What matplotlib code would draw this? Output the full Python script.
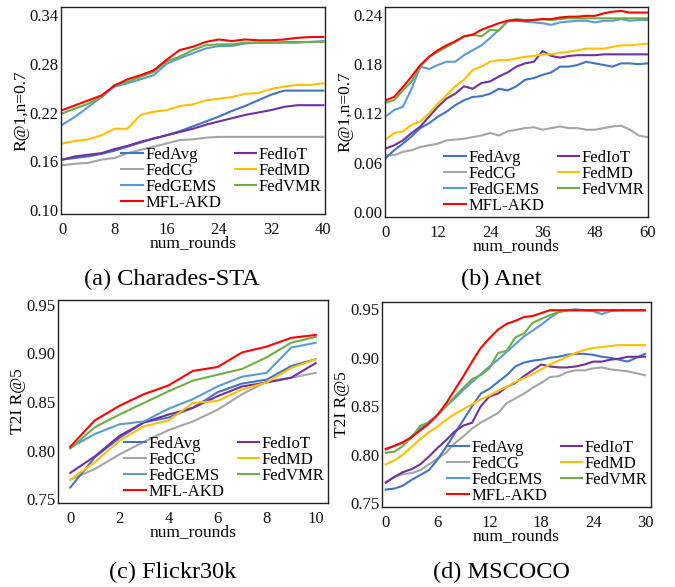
"""Four-panel federated-learning convergence figure (R@1 / T2I R@5 vs rounds)."""

import matplotlib

matplotlib.use("Agg")
import matplotlib.pyplot as plt
from matplotlib.ticker import FormatStrFormatter

plt.rcParams["font.family"] = ["Liberation Serif", "DejaVu Serif"]

METHODS = ["FedAvg", "FedCG", "FedGEMS", "MFL-AKD", "FedIoT", "FedMD", "FedVMR"]
DRAW_ORDER = ["FedCG", "FedAvg", "FedIoT", "FedMD", "FedGEMS", "FedVMR", "MFL-AKD"]
COLORS = {
    "FedAvg": "#4472c4",
    "FedCG": "#a5a5a5",
    "FedGEMS": "#5b9bd5",
    "MFL-AKD": "#ff0000",
    "FedIoT": "#7030a0",
    "FedMD": "#ffc000",
    "FedVMR": "#70ad47",
}

# (a) Charades-STA, every 2 rounds
A_ROUNDS = list(range(0, 41, 2))
A_FEDAVG = [0.162, 0.164, 0.166, 0.169, 0.173, 0.178, 0.183, 0.188, 0.192, 0.197, 0.203,
            0.209, 0.215, 0.222, 0.228, 0.235, 0.242, 0.247, 0.247, 0.247, 0.247]
A_FEDCG = [0.155, 0.157, 0.158, 0.162, 0.164, 0.170, 0.174, 0.178, 0.182, 0.186, 0.187,
           0.189, 0.190, 0.190, 0.190, 0.190, 0.190, 0.190, 0.190, 0.190, 0.190]
A_FEDGEMS = [0.205, 0.215, 0.227, 0.239, 0.252, 0.256, 0.261, 0.266, 0.280, 0.287, 0.293,
             0.299, 0.302, 0.302, 0.305, 0.306, 0.306, 0.307, 0.307, 0.307, 0.308]
A_MFLAKD = [0.223, 0.229, 0.235, 0.241, 0.253, 0.261, 0.266, 0.272, 0.285, 0.297, 0.301,
            0.307, 0.310, 0.308, 0.310, 0.309, 0.309, 0.310, 0.312, 0.313, 0.313]
A_FEDIOT = [0.162, 0.166, 0.168, 0.170, 0.175, 0.179, 0.184, 0.188, 0.192, 0.196, 0.200,
            0.205, 0.209, 0.213, 0.217, 0.220, 0.223, 0.227, 0.229, 0.229, 0.229]
A_FEDMD = [0.182, 0.185, 0.187, 0.192, 0.200, 0.200, 0.217, 0.221, 0.223, 0.228, 0.230,
           0.235, 0.237, 0.239, 0.243, 0.244, 0.249, 0.252, 0.254, 0.254, 0.256]
A_FEDVMR = [0.219, 0.225, 0.231, 0.239, 0.254, 0.258, 0.264, 0.270, 0.283, 0.289, 0.297,
            0.303, 0.304, 0.304, 0.306, 0.306, 0.306, 0.306, 0.306, 0.307, 0.307]

# (b) Anet, every 2 rounds
B_ROUNDS = list(range(0, 61, 2))
B_FEDAVG = [0.065, 0.075, 0.083, 0.092, 0.102, 0.108, 0.116, 0.122, 0.130, 0.136, 0.140,
            0.141, 0.144, 0.150, 0.148, 0.153, 0.161, 0.163, 0.167, 0.170, 0.177, 0.177,
            0.179, 0.183, 0.181, 0.179, 0.177, 0.181, 0.181, 0.180, 0.181]
B_FEDCG = [0.069, 0.069, 0.073, 0.075, 0.079, 0.081, 0.083, 0.087, 0.088, 0.089, 0.091,
           0.093, 0.096, 0.093, 0.098, 0.100, 0.102, 0.103, 0.100, 0.102, 0.104, 0.102,
           0.102, 0.100, 0.100, 0.102, 0.104, 0.105, 0.100, 0.093, 0.091]
B_FEDGEMS = [0.116, 0.124, 0.128, 0.150, 0.177, 0.174, 0.179, 0.183, 0.183, 0.191, 0.197,
             0.203, 0.212, 0.222, 0.232, 0.233, 0.232, 0.231, 0.230, 0.228, 0.231, 0.232,
             0.233, 0.233, 0.231, 0.233, 0.233, 0.235, 0.233, 0.234, 0.234]
B_MFLAKD = [0.136, 0.140, 0.152, 0.165, 0.179, 0.189, 0.197, 0.203, 0.208, 0.214, 0.216,
            0.222, 0.226, 0.230, 0.233, 0.234, 0.233, 0.234, 0.235, 0.235, 0.237, 0.238,
            0.238, 0.239, 0.239, 0.242, 0.244, 0.245, 0.243, 0.243, 0.243]
B_FEDIOT = [0.077, 0.081, 0.087, 0.096, 0.104, 0.116, 0.128, 0.138, 0.144, 0.153, 0.150,
            0.157, 0.159, 0.165, 0.170, 0.177, 0.181, 0.183, 0.196, 0.190, 0.188, 0.190,
            0.191, 0.191, 0.191, 0.192, 0.192, 0.192, 0.192, 0.192, 0.192]
B_FEDMD = [0.088, 0.096, 0.098, 0.106, 0.110, 0.120, 0.132, 0.142, 0.153, 0.161, 0.173,
           0.177, 0.183, 0.185, 0.185, 0.187, 0.189, 0.190, 0.192, 0.192, 0.194, 0.195,
           0.197, 0.199, 0.199, 0.199, 0.201, 0.203, 0.203, 0.204, 0.205]
B_FEDVMR = [0.133, 0.136, 0.148, 0.159, 0.177, 0.189, 0.195, 0.201, 0.207, 0.214, 0.216,
            0.214, 0.222, 0.221, 0.233, 0.235, 0.234, 0.234, 0.235, 0.234, 0.235, 0.236,
            0.236, 0.236, 0.236, 0.236, 0.236, 0.236, 0.236, 0.236, 0.236]

# (c) Flickr30k, every round
C_ROUNDS = list(range(0, 11))
C_FEDAVG = [0.762, 0.793, 0.813, 0.829, 0.834, 0.844, 0.860, 0.869, 0.873, 0.887, 0.894]
C_FEDCG = [0.770, 0.781, 0.796, 0.809, 0.821, 0.830, 0.842, 0.858, 0.871, 0.875, 0.880]
C_FEDGEMS = [0.803, 0.817, 0.827, 0.830, 0.843, 0.853, 0.866, 0.876, 0.880, 0.906, 0.911]
C_MFLAKD = [0.804, 0.831, 0.846, 0.858, 0.867, 0.882, 0.886, 0.901, 0.907, 0.916, 0.919]
C_FEDIOT = [0.777, 0.794, 0.815, 0.829, 0.837, 0.844, 0.856, 0.866, 0.870, 0.875, 0.890]
C_FEDMD = [0.770, 0.788, 0.810, 0.825, 0.831, 0.849, 0.851, 0.863, 0.870, 0.885, 0.894]
C_FEDVMR = [0.802, 0.824, 0.837, 0.849, 0.861, 0.872, 0.878, 0.884, 0.896, 0.911, 0.917]

# (d) MSCOCO, every round
D_ROUNDS = list(range(0, 31))
D_FEDAVG = [0.764, 0.765, 0.768, 0.774, 0.779, 0.784, 0.795, 0.808, 0.822, 0.836, 0.850,
            0.863, 0.868, 0.875, 0.882, 0.891, 0.895, 0.897, 0.898, 0.900, 0.901, 0.903,
            0.904, 0.904, 0.903, 0.901, 0.900, 0.898, 0.896, 0.900, 0.904]
D_FEDCG = [0.772, 0.777, 0.780, 0.781, 0.784, 0.790, 0.796, 0.802, 0.812, 0.819, 0.827,
           0.833, 0.838, 0.843, 0.853, 0.858, 0.863, 0.869, 0.874, 0.880, 0.881, 0.885,
           0.887, 0.887, 0.889, 0.890, 0.888, 0.887, 0.886, 0.884, 0.882]
D_FEDGEMS = [0.805, 0.809, 0.812, 0.819, 0.827, 0.834, 0.841, 0.850, 0.858, 0.867, 0.875,
             0.883, 0.891, 0.898, 0.906, 0.914, 0.922, 0.928, 0.934, 0.941, 0.947, 0.949,
             0.950, 0.949, 0.948, 0.945, 0.948, 0.949, 0.949, 0.949, 0.949]
D_MFLAKD = [0.806, 0.809, 0.813, 0.818, 0.825, 0.832, 0.841, 0.853, 0.867, 0.881, 0.896,
            0.910, 0.920, 0.929, 0.935, 0.938, 0.942, 0.943, 0.946, 0.949, 0.949, 0.949,
            0.949, 0.949, 0.949, 0.949, 0.949, 0.949, 0.949, 0.949, 0.949]
D_FEDIOT = [0.771, 0.777, 0.782, 0.785, 0.790, 0.798, 0.807, 0.815, 0.824, 0.830, 0.833,
            0.850, 0.860, 0.863, 0.870, 0.874, 0.881, 0.887, 0.893, 0.891, 0.890, 0.890,
            0.891, 0.893, 0.896, 0.896, 0.898, 0.899, 0.901, 0.901, 0.901]
D_FEDMD = [0.790, 0.794, 0.800, 0.808, 0.816, 0.823, 0.829, 0.836, 0.842, 0.847, 0.852,
           0.857, 0.861, 0.866, 0.870, 0.875, 0.879, 0.883, 0.888, 0.893, 0.897, 0.901,
           0.905, 0.908, 0.910, 0.911, 0.912, 0.913, 0.913, 0.913, 0.913]
D_FEDVMR = [0.802, 0.803, 0.809, 0.818, 0.830, 0.833, 0.841, 0.850, 0.860, 0.869, 0.878,
            0.882, 0.889, 0.905, 0.907, 0.921, 0.925, 0.936, 0.940, 0.944, 0.947, 0.949,
            0.949, 0.949, 0.949, 0.949, 0.949, 0.949, 0.949, 0.949, 0.949]

PANELS = [
    dict(
        rect=(61, 7, 325, 214), rounds=A_ROUNDS,
        series=dict(zip(METHODS, [A_FEDAVG, A_FEDCG, A_FEDGEMS, A_MFLAKD, A_FEDIOT, A_FEDMD, A_FEDVMR])),
        xlim=(-0.2, 40.25), xticks=range(0, 41, 8),
        ylim=(0.095, 0.350), yticks=[0.10, 0.16, 0.22, 0.28, 0.34],
        ylabel="R@1,n=0.7", frame=":", caption="(a) Charades-STA", cap_xy=(172, 279),
    ),
    dict(
        rect=(385, 7, 648, 217), rounds=B_ROUNDS,
        series=dict(zip(METHODS, [B_FEDAVG, B_FEDCG, B_FEDGEMS, B_MFLAKD, B_FEDIOT, B_FEDMD, B_FEDVMR])),
        xlim=(-0.1, 60.15), xticks=range(0, 61, 12),
        ylim=(-0.0065, 0.2498), yticks=[0.00, 0.06, 0.12, 0.18, 0.24],
        ylabel="R@1,n=0.7", frame=":", caption="(b) Anet", cap_xy=(501, 279),
    ),
    dict(
        rect=(58, 300, 328, 503), rounds=C_ROUNDS,
        series=dict(zip(METHODS, [C_FEDAVG, C_FEDCG, C_FEDGEMS, C_MFLAKD, C_FEDIOT, C_FEDMD, C_FEDVMR])),
        xlim=(-0.5, 10.5), xticks=range(0, 11, 2),
        ylim=(0.746, 0.955), yticks=[0.75, 0.80, 0.85, 0.90, 0.95],
        ylabel="T2I R@5", frame="--", caption="(c) Flickr30k", cap_xy=(173, 572),
    ),
    dict(
        rect=(382, 302, 651, 507), rounds=D_ROUNDS,
        series=dict(zip(METHODS, [D_FEDAVG, D_FEDCG, D_FEDGEMS, D_MFLAKD, D_FEDIOT, D_FEDMD, D_FEDVMR])),
        xlim=(-0.43, 30.7), xticks=range(0, 31, 6),
        ylim=(0.746, 0.9575), yticks=[0.75, 0.80, 0.85, 0.90, 0.95],
        ylabel="T2I R@5", frame="--", caption="(d) MSCOCO", cap_xy=(501, 572),
    ),
]

W, H = 675, 587


def draw_panel(fig, p) -> None:
    l, t, r, b = p["rect"]
    ax = fig.add_axes([l / W, 1 - b / H, (r - l) / W, (b - t) / H])
    lines = {}
    for name in DRAW_ORDER:
        (lines[name],) = ax.plot(p["rounds"], p["series"][name], color=COLORS[name],
                                 linewidth=1.5, label=name)
    ax.set_xlim(*p["xlim"])
    ax.set_ylim(*p["ylim"])
    ax.set_xticks(list(p["xticks"]))
    ax.set_yticks(p["yticks"])
    ax.yaxis.set_major_formatter(FormatStrFormatter("%.2f"))
    ax.tick_params(length=0, labelsize=12, colors="#111111")
    ax.tick_params(axis="x", pad=6)
    ax.tick_params(axis="y", pad=2)
    ax.set_xlabel("num_rounds", fontsize=12.5, labelpad=-2)
    ax.set_ylabel(p["ylabel"], fontsize=12.5, labelpad=0)
    for s in ax.spines.values():
        s.set_linewidth(1.0)
        s.set_color("#222222")
    leg = ax.legend(
        [lines[m] for m in METHODS], METHODS,
        loc="lower right", bbox_to_anchor=(1, 0), borderaxespad=0,
        ncol=2, fontsize=12, handlelength=1.3, handletextpad=0.15,
        columnspacing=0.8, labelspacing=0.0, borderpad=0.2,
        fancybox=False, framealpha=0, edgecolor="#222222",
    )
    leg.get_frame().set_linestyle(p["frame"])
    leg.get_frame().set_linewidth(1.0)
    cx, cy = p["cap_xy"]
    fig.text(cx / W, 1 - cy / H, p["caption"], ha="center", va="center", fontsize=17.5)


def main() -> None:
    fig = plt.figure(figsize=(W / 100, H / 100), dpi=100)
    for p in PANELS:
        draw_panel(fig, p)
    fig.savefig("out.png", dpi=100)
    plt.close(fig)


if __name__ == "__main__":
    main()
